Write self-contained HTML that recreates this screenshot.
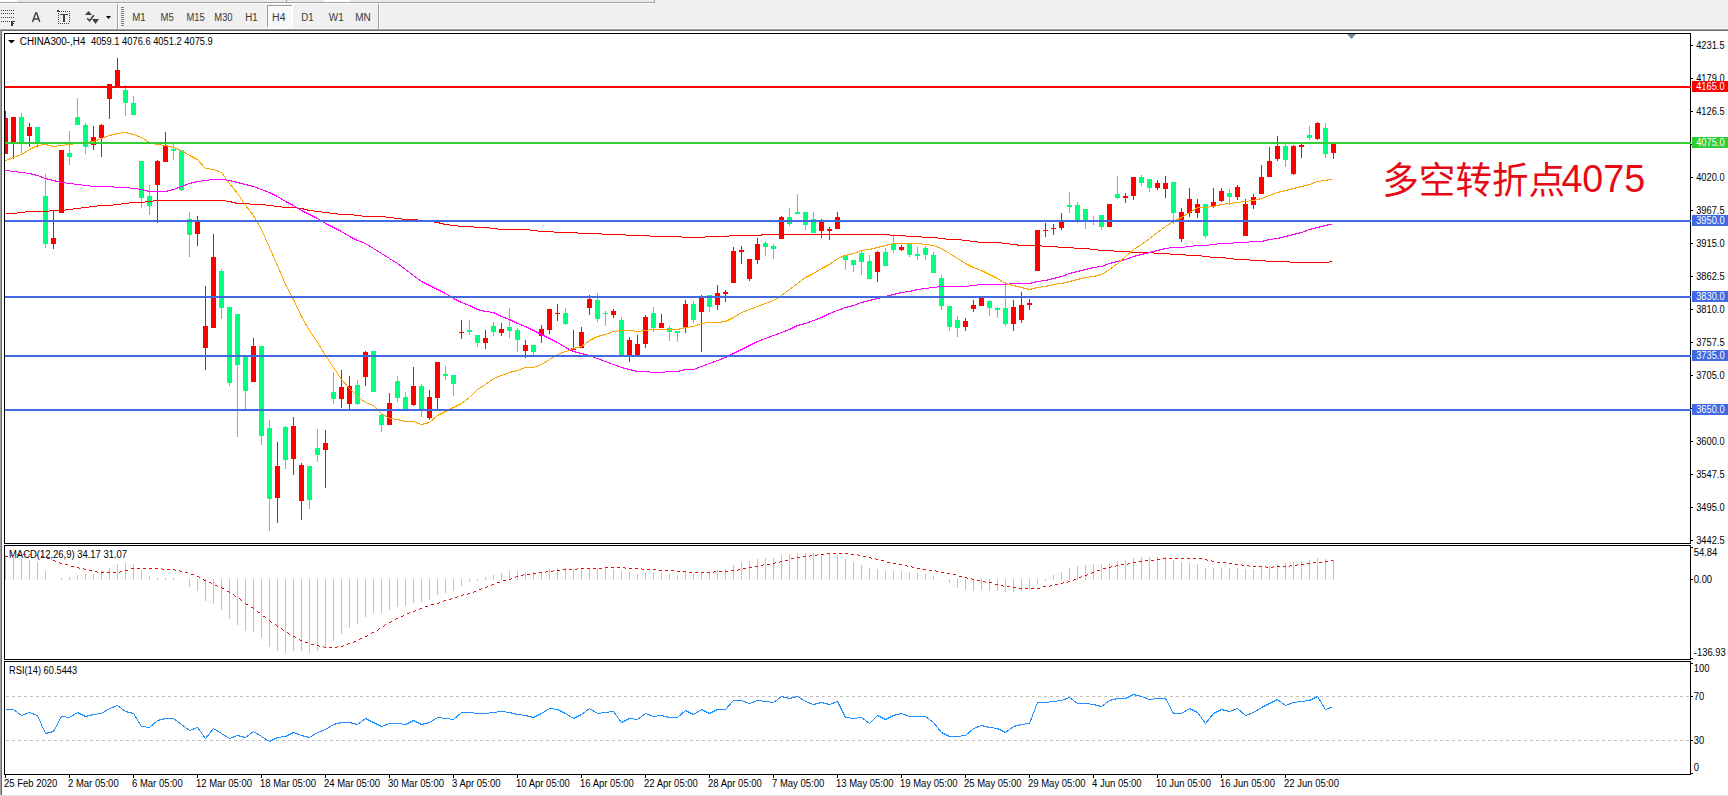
<!DOCTYPE html>
<html><head><meta charset="utf-8"><title>CHINA300 H4</title>
<style>html,body{margin:0;padding:0;background:#f0f0f0;}body{width:1728px;height:796px;overflow:hidden;}svg{display:block;}</style>
</head><body>
<svg width="1728" height="796" viewBox="0 0 1728 796"><rect x="0" y="0" width="1728" height="796" fill="#f0f0f0"/>
<rect x="0" y="0" width="655" height="2" fill="#e9e9e9"/>
<rect x="0" y="0" width="17" height="2" fill="#ffffff"/>
<rect x="324" y="0" width="26" height="2" fill="#ffffff"/>
<rect x="286" y="0" width="1" height="2" fill="#a0a0a0"/>
<rect x="0" y="2" width="655" height="1" fill="#a0a0a0"/>
<rect x="654" y="0" width="1" height="3" fill="#a0a0a0"/>
<rect x="0" y="3" width="655" height="1" fill="#ffffff"/>
<rect x="0" y="28" width="1728" height="1" fill="#f7f7f7"/>
<rect x="0" y="29" width="1728" height="1" fill="#a0a0a0"/>
<rect x="1" y="30" width="1727" height="1" fill="#696969"/>
<rect x="2" y="31" width="1726" height="764" fill="#ffffff"/>
<rect x="0" y="29" width="1" height="767" fill="#a0a0a0"/>
<rect x="1" y="30" width="1" height="766" fill="#696969"/>
<rect x="0" y="795" width="1728" height="1" fill="#e3e3e3"/>
<rect x="4" y="33" width="1687" height="1" fill="#000"/>
<rect x="4" y="543" width="1687" height="1" fill="#000"/>
<rect x="4" y="33" width="1" height="511" fill="#000"/>
<rect x="1690" y="33" width="1" height="511" fill="#000"/>
<rect x="4" y="545" width="1687" height="1" fill="#000"/>
<rect x="4" y="659" width="1687" height="1" fill="#000"/>
<rect x="4" y="545" width="1" height="115" fill="#000"/>
<rect x="1690" y="545" width="1" height="115" fill="#000"/>
<rect x="4" y="661" width="1687" height="1" fill="#000"/>
<rect x="4" y="774" width="1687" height="1" fill="#000"/>
<rect x="4" y="661" width="1" height="114" fill="#000"/>
<rect x="1690" y="661" width="1" height="114" fill="#000"/>
<rect x="1" y="10" width="1" height="1" fill="#404040"/>
<rect x="3" y="10" width="1" height="1" fill="#404040"/>
<rect x="5" y="10" width="1" height="1" fill="#404040"/>
<rect x="7" y="10" width="1" height="1" fill="#404040"/>
<rect x="9" y="10" width="1" height="1" fill="#404040"/>
<rect x="11" y="10" width="1" height="1" fill="#404040"/>
<rect x="13" y="10" width="1" height="1" fill="#404040"/>
<rect x="1" y="13" width="1" height="1" fill="#404040"/>
<rect x="3" y="13" width="1" height="1" fill="#404040"/>
<rect x="5" y="13" width="1" height="1" fill="#404040"/>
<rect x="7" y="13" width="1" height="1" fill="#404040"/>
<rect x="9" y="13" width="1" height="1" fill="#404040"/>
<rect x="11" y="13" width="1" height="1" fill="#404040"/>
<rect x="13" y="13" width="1" height="1" fill="#404040"/>
<rect x="1" y="17" width="1" height="1" fill="#404040"/>
<rect x="3" y="17" width="1" height="1" fill="#404040"/>
<rect x="5" y="17" width="1" height="1" fill="#404040"/>
<rect x="7" y="17" width="1" height="1" fill="#404040"/>
<rect x="9" y="17" width="1" height="1" fill="#404040"/>
<rect x="11" y="17" width="1" height="1" fill="#404040"/>
<rect x="13" y="17" width="1" height="1" fill="#404040"/>
<rect x="1" y="21" width="1" height="1" fill="#404040"/>
<rect x="3" y="21" width="1" height="1" fill="#404040"/>
<rect x="5" y="21" width="1" height="1" fill="#404040"/>
<rect x="7" y="21" width="1" height="1" fill="#404040"/>
<rect x="9" y="21" width="1" height="1" fill="#404040"/>
<rect x="11" y="21" width="2" height="5" fill="#404040"/>
<rect x="11" y="21" width="4" height="1" fill="#404040"/>
<rect x="11" y="23" width="3" height="1" fill="#404040"/>
<path d="M32.5 22 L35.7 13 L36.7 13 L39.8 22 M33.8 19 L38.6 19" stroke="#404040" stroke-width="1.4" fill="none"/>
<rect x="61" y="11" width="1" height="1" fill="#404040"/>
<rect x="63" y="11" width="1" height="1" fill="#404040"/>
<rect x="65" y="11" width="1" height="1" fill="#404040"/>
<rect x="67" y="11" width="1" height="1" fill="#404040"/>
<rect x="69" y="11" width="1" height="1" fill="#404040"/>
<rect x="58" y="23" width="1" height="1" fill="#404040"/>
<rect x="60" y="23" width="1" height="1" fill="#404040"/>
<rect x="62" y="23" width="1" height="1" fill="#404040"/>
<rect x="64" y="23" width="1" height="1" fill="#404040"/>
<rect x="66" y="23" width="1" height="1" fill="#404040"/>
<rect x="68" y="23" width="1" height="1" fill="#404040"/>
<rect x="58" y="13" width="1" height="1" fill="#404040"/>
<rect x="69" y="13" width="1" height="1" fill="#404040"/>
<rect x="58" y="15" width="1" height="1" fill="#404040"/>
<rect x="69" y="15" width="1" height="1" fill="#404040"/>
<rect x="58" y="17" width="1" height="1" fill="#404040"/>
<rect x="69" y="17" width="1" height="1" fill="#404040"/>
<rect x="58" y="19" width="1" height="1" fill="#404040"/>
<rect x="69" y="19" width="1" height="1" fill="#404040"/>
<rect x="58" y="21" width="1" height="1" fill="#404040"/>
<rect x="69" y="21" width="1" height="1" fill="#404040"/>
<rect x="57" y="10" width="2" height="2" fill="#404040"/>
<rect x="59" y="11" width="1" height="1" fill="#404040"/>
<rect x="60" y="14" width="8" height="1" fill="#404040"/>
<rect x="63" y="14" width="2" height="8" fill="#404040"/>
<path d="M85 15 L92 15 L88.5 11 Z" fill="#404040"/>
<path d="M92 19 L99 19 L95.5 24 Z" fill="#404040"/>
<path d="M87.2 18.2 L89.6 20.8 L93.8 15.2" stroke="#404040" stroke-width="1.6" fill="none"/>
<path d="M106 16 L111 16 L108.5 19 Z" fill="#000"/>
<rect x="117" y="4" width="1" height="25" fill="#a0a0a0"/>
<rect x="118" y="4" width="1" height="25" fill="#ffffff"/>
<rect x="121" y="7" width="3" height="1" fill="#808080"/>
<rect x="121" y="9" width="3" height="1" fill="#808080"/>
<rect x="121" y="11" width="3" height="1" fill="#808080"/>
<rect x="121" y="13" width="3" height="1" fill="#808080"/>
<rect x="121" y="15" width="3" height="1" fill="#808080"/>
<rect x="121" y="17" width="3" height="1" fill="#808080"/>
<rect x="121" y="19" width="3" height="1" fill="#808080"/>
<rect x="121" y="21" width="3" height="1" fill="#808080"/>
<rect x="121" y="23" width="3" height="1" fill="#808080"/>
<rect x="121" y="25" width="3" height="1" fill="#808080"/>
<rect x="378" y="4" width="1" height="25" fill="#a0a0a0"/>
<rect x="379" y="4" width="1" height="25" fill="#ffffff"/>
<defs><pattern id="chk" x="0" y="0" width="2" height="2" patternUnits="userSpaceOnUse"><rect width="2" height="2" fill="#f0f0f0"/><rect width="1" height="1" fill="#ffffff"/><rect x="1" y="1" width="1" height="1" fill="#ffffff"/></pattern></defs>
<rect x="268" y="6" width="24" height="21" fill="url(#chk)"/>
<rect x="267" y="5" width="25" height="1" fill="#a0a0a0"/>
<rect x="267" y="5" width="1" height="22" fill="#a0a0a0"/>
<rect x="267" y="27" width="26" height="1" fill="#ffffff"/>
<rect x="292" y="5" width="1" height="23" fill="#ffffff"/>
<g font-family="'Liberation Sans', Arial, sans-serif" font-size="9.4" fill="#383838">
<text x="132.29999999999998" y="21" font-size="10" fill="#383838" textLength="13.40" lengthAdjust="spacingAndGlyphs" >M1</text>
<text x="160.5" y="21" font-size="10" fill="#383838" textLength="13.20" lengthAdjust="spacingAndGlyphs" >M5</text>
<text x="186.5" y="21" font-size="10" fill="#383838" textLength="18.30" lengthAdjust="spacingAndGlyphs" >M15</text>
<text x="214.29999999999998" y="21" font-size="10" fill="#383838" textLength="18.30" lengthAdjust="spacingAndGlyphs" >M30</text>
<text x="245.2" y="21" font-size="10" fill="#383838" textLength="12.50" lengthAdjust="spacingAndGlyphs" >H1</text>
<text x="272.1" y="21" font-size="10" fill="#383838" textLength="13.40" lengthAdjust="spacingAndGlyphs" >H4</text>
<text x="301.3" y="21" font-size="10" fill="#383838" textLength="12.40" lengthAdjust="spacingAndGlyphs" >D1</text>
<text x="328.8" y="21" font-size="10" fill="#383838" textLength="14.90" lengthAdjust="spacingAndGlyphs" >W1</text>
<text x="355.3" y="21" font-size="10" fill="#383838" textLength="15.50" lengthAdjust="spacingAndGlyphs" >MN</text>
</g>
<g shape-rendering="crispEdges">
<rect x="5" y="111" width="1" height="43" fill="#ff0000"/>
<rect x="5" y="118" width="3" height="36" fill="#ff0000"/>
<rect x="13" y="117" width="1" height="42" fill="#ff0000"/>
<rect x="11" y="117" width="5" height="27" fill="#ff0000"/>
<rect x="21" y="113" width="1" height="40" fill="#00ff7f"/>
<rect x="19" y="117" width="5" height="26" fill="#00ff7f"/>
<rect x="29" y="123" width="1" height="24" fill="#ff0000"/>
<rect x="27" y="127" width="5" height="9" fill="#ff0000"/>
<rect x="37" y="127" width="1" height="21" fill="#00ff7f"/>
<rect x="35" y="127" width="5" height="16" fill="#00ff7f"/>
<rect x="45" y="174" width="1" height="74" fill="#00ff7f"/>
<rect x="43" y="196" width="5" height="48" fill="#00ff7f"/>
<rect x="53" y="210" width="1" height="39" fill="#ff0000"/>
<rect x="51" y="238" width="5" height="6" fill="#ff0000"/>
<rect x="61" y="150" width="1" height="63" fill="#ff0000"/>
<rect x="59" y="150" width="5" height="63" fill="#ff0000"/>
<rect x="69" y="131" width="1" height="34" fill="#00ff7f"/>
<rect x="67" y="153" width="5" height="4" fill="#00ff7f"/>
<rect x="77" y="98" width="1" height="27" fill="#00ff7f"/>
<rect x="75" y="117" width="5" height="8" fill="#00ff7f"/>
<rect x="85" y="123" width="1" height="31" fill="#00ff7f"/>
<rect x="83" y="125" width="5" height="22" fill="#00ff7f"/>
<rect x="93" y="126" width="1" height="24" fill="#ff0000"/>
<rect x="91" y="137" width="5" height="8" fill="#ff0000"/>
<rect x="101" y="124" width="1" height="33" fill="#ff0000"/>
<rect x="99" y="125" width="5" height="13" fill="#ff0000"/>
<rect x="109" y="84" width="1" height="35" fill="#ff0000"/>
<rect x="107" y="84" width="5" height="15" fill="#ff0000"/>
<rect x="117" y="58" width="1" height="29" fill="#ff0000"/>
<rect x="115" y="70" width="5" height="17" fill="#ff0000"/>
<rect x="125" y="85" width="1" height="31" fill="#00ff7f"/>
<rect x="123" y="90" width="5" height="13" fill="#00ff7f"/>
<rect x="133" y="96" width="1" height="19" fill="#00ff7f"/>
<rect x="131" y="103" width="5" height="12" fill="#00ff7f"/>
<rect x="141" y="161" width="1" height="47" fill="#00ff7f"/>
<rect x="139" y="161" width="5" height="37" fill="#00ff7f"/>
<rect x="149" y="185" width="1" height="30" fill="#00ff7f"/>
<rect x="147" y="196" width="5" height="10" fill="#00ff7f"/>
<rect x="157" y="160" width="1" height="63" fill="#ff0000"/>
<rect x="155" y="161" width="5" height="24" fill="#ff0000"/>
<rect x="165" y="132" width="1" height="30" fill="#ff0000"/>
<rect x="163" y="146" width="5" height="16" fill="#ff0000"/>
<rect x="173" y="144" width="1" height="16" fill="#00ff7f"/>
<rect x="171" y="149" width="5" height="2" fill="#00ff7f"/>
<rect x="181" y="150" width="1" height="41" fill="#00ff7f"/>
<rect x="179" y="150" width="5" height="40" fill="#00ff7f"/>
<rect x="189" y="212" width="1" height="45" fill="#00ff7f"/>
<rect x="187" y="219" width="5" height="16" fill="#00ff7f"/>
<rect x="197" y="216" width="1" height="30" fill="#ff0000"/>
<rect x="195" y="221" width="5" height="13" fill="#ff0000"/>
<rect x="205" y="286" width="1" height="84" fill="#ff0000"/>
<rect x="203" y="326" width="5" height="22" fill="#ff0000"/>
<rect x="213" y="234" width="1" height="94" fill="#ff0000"/>
<rect x="211" y="257" width="5" height="71" fill="#ff0000"/>
<rect x="221" y="269" width="1" height="50" fill="#00ff7f"/>
<rect x="219" y="271" width="5" height="37" fill="#00ff7f"/>
<rect x="229" y="307" width="1" height="79" fill="#00ff7f"/>
<rect x="227" y="307" width="5" height="76" fill="#00ff7f"/>
<rect x="237" y="314" width="1" height="123" fill="#00ff7f"/>
<rect x="235" y="314" width="5" height="51" fill="#00ff7f"/>
<rect x="245" y="357" width="1" height="52" fill="#00ff7f"/>
<rect x="243" y="357" width="5" height="34" fill="#00ff7f"/>
<rect x="253" y="338" width="1" height="44" fill="#ff0000"/>
<rect x="251" y="346" width="5" height="36" fill="#ff0000"/>
<rect x="261" y="346" width="1" height="99" fill="#00ff7f"/>
<rect x="259" y="346" width="5" height="90" fill="#00ff7f"/>
<rect x="269" y="420" width="1" height="111" fill="#00ff7f"/>
<rect x="267" y="428" width="5" height="71" fill="#00ff7f"/>
<rect x="277" y="442" width="1" height="81" fill="#ff0000"/>
<rect x="275" y="466" width="5" height="32" fill="#ff0000"/>
<rect x="285" y="426" width="1" height="43" fill="#00ff7f"/>
<rect x="283" y="427" width="5" height="33" fill="#00ff7f"/>
<rect x="293" y="417" width="1" height="58" fill="#ff0000"/>
<rect x="291" y="426" width="5" height="33" fill="#ff0000"/>
<rect x="301" y="463" width="1" height="57" fill="#ff0000"/>
<rect x="299" y="465" width="5" height="36" fill="#ff0000"/>
<rect x="309" y="466" width="1" height="43" fill="#00ff7f"/>
<rect x="307" y="466" width="5" height="34" fill="#00ff7f"/>
<rect x="317" y="429" width="1" height="33" fill="#00ff7f"/>
<rect x="315" y="448" width="5" height="7" fill="#00ff7f"/>
<rect x="325" y="430" width="1" height="58" fill="#ff0000"/>
<rect x="323" y="443" width="5" height="7" fill="#ff0000"/>
<rect x="333" y="372" width="1" height="32" fill="#00ff7f"/>
<rect x="331" y="392" width="5" height="7" fill="#00ff7f"/>
<rect x="341" y="370" width="1" height="38" fill="#ff0000"/>
<rect x="339" y="387" width="5" height="12" fill="#ff0000"/>
<rect x="349" y="376" width="1" height="33" fill="#ff0000"/>
<rect x="347" y="386" width="5" height="18" fill="#ff0000"/>
<rect x="357" y="380" width="1" height="25" fill="#00ff7f"/>
<rect x="355" y="385" width="5" height="19" fill="#00ff7f"/>
<rect x="365" y="351" width="1" height="35" fill="#ff0000"/>
<rect x="363" y="352" width="5" height="25" fill="#ff0000"/>
<rect x="373" y="351" width="1" height="41" fill="#00ff7f"/>
<rect x="371" y="351" width="5" height="41" fill="#00ff7f"/>
<rect x="381" y="414" width="1" height="18" fill="#00ff7f"/>
<rect x="379" y="415" width="5" height="10" fill="#00ff7f"/>
<rect x="389" y="393" width="1" height="32" fill="#ff0000"/>
<rect x="387" y="403" width="5" height="22" fill="#ff0000"/>
<rect x="397" y="376" width="1" height="26" fill="#00ff7f"/>
<rect x="395" y="381" width="5" height="17" fill="#00ff7f"/>
<rect x="405" y="392" width="1" height="18" fill="#00ff7f"/>
<rect x="403" y="397" width="5" height="12" fill="#00ff7f"/>
<rect x="413" y="367" width="1" height="39" fill="#ff0000"/>
<rect x="411" y="386" width="5" height="19" fill="#ff0000"/>
<rect x="421" y="384" width="1" height="33" fill="#00ff7f"/>
<rect x="419" y="386" width="5" height="25" fill="#00ff7f"/>
<rect x="429" y="390" width="1" height="30" fill="#ff0000"/>
<rect x="427" y="397" width="5" height="21" fill="#ff0000"/>
<rect x="437" y="362" width="1" height="47" fill="#ff0000"/>
<rect x="435" y="362" width="5" height="36" fill="#ff0000"/>
<rect x="445" y="366" width="1" height="14" fill="#00ff7f"/>
<rect x="443" y="374" width="5" height="2" fill="#00ff7f"/>
<rect x="453" y="375" width="1" height="21" fill="#00ff7f"/>
<rect x="451" y="375" width="5" height="9" fill="#00ff7f"/>
<rect x="461" y="320" width="1" height="19" fill="#ff0000"/>
<rect x="459" y="332" width="5" height="1" fill="#ff0000"/>
<rect x="469" y="320" width="1" height="15" fill="#00ff7f"/>
<rect x="467" y="330" width="5" height="2" fill="#00ff7f"/>
<rect x="477" y="335" width="1" height="12" fill="#00ff7f"/>
<rect x="475" y="335" width="5" height="8" fill="#00ff7f"/>
<rect x="485" y="330" width="1" height="19" fill="#ff0000"/>
<rect x="483" y="338" width="5" height="5" fill="#ff0000"/>
<rect x="493" y="322" width="1" height="14" fill="#00ff7f"/>
<rect x="491" y="326" width="5" height="6" fill="#00ff7f"/>
<rect x="501" y="323" width="1" height="13" fill="#ff0000"/>
<rect x="499" y="329" width="5" height="4" fill="#ff0000"/>
<rect x="509" y="308" width="1" height="30" fill="#00ff7f"/>
<rect x="507" y="327" width="5" height="4" fill="#00ff7f"/>
<rect x="517" y="328" width="1" height="24" fill="#00ff7f"/>
<rect x="515" y="330" width="5" height="10" fill="#00ff7f"/>
<rect x="525" y="340" width="1" height="18" fill="#ff0000"/>
<rect x="523" y="345" width="5" height="6" fill="#ff0000"/>
<rect x="533" y="345" width="1" height="10" fill="#00ff7f"/>
<rect x="531" y="345" width="5" height="7" fill="#00ff7f"/>
<rect x="541" y="325" width="1" height="18" fill="#ff0000"/>
<rect x="539" y="329" width="5" height="7" fill="#ff0000"/>
<rect x="549" y="309" width="1" height="25" fill="#ff0000"/>
<rect x="547" y="309" width="5" height="21" fill="#ff0000"/>
<rect x="557" y="304" width="1" height="17" fill="#ff0000"/>
<rect x="555" y="313" width="5" height="1" fill="#ff0000"/>
<rect x="565" y="308" width="1" height="17" fill="#00ff7f"/>
<rect x="563" y="313" width="5" height="11" fill="#00ff7f"/>
<rect x="573" y="330" width="1" height="20" fill="#ff0000"/>
<rect x="571" y="348" width="5" height="2" fill="#ff0000"/>
<rect x="581" y="327" width="1" height="21" fill="#ff0000"/>
<rect x="579" y="332" width="5" height="16" fill="#ff0000"/>
<rect x="589" y="295" width="1" height="20" fill="#ff0000"/>
<rect x="587" y="299" width="5" height="9" fill="#ff0000"/>
<rect x="597" y="293" width="1" height="29" fill="#00ff7f"/>
<rect x="595" y="300" width="5" height="19" fill="#00ff7f"/>
<rect x="605" y="311" width="1" height="15" fill="#00ff7f"/>
<rect x="603" y="313" width="5" height="1" fill="#00ff7f"/>
<rect x="613" y="309" width="1" height="9" fill="#ff0000"/>
<rect x="611" y="311" width="5" height="4" fill="#ff0000"/>
<rect x="621" y="317" width="1" height="38" fill="#00ff7f"/>
<rect x="619" y="320" width="5" height="35" fill="#00ff7f"/>
<rect x="629" y="337" width="1" height="25" fill="#ff0000"/>
<rect x="627" y="340" width="5" height="15" fill="#ff0000"/>
<rect x="637" y="335" width="1" height="20" fill="#ff0000"/>
<rect x="635" y="344" width="5" height="11" fill="#ff0000"/>
<rect x="645" y="315" width="1" height="33" fill="#ff0000"/>
<rect x="643" y="317" width="5" height="27" fill="#ff0000"/>
<rect x="653" y="307" width="1" height="25" fill="#00ff7f"/>
<rect x="651" y="313" width="5" height="15" fill="#00ff7f"/>
<rect x="661" y="314" width="1" height="14" fill="#ff0000"/>
<rect x="659" y="323" width="5" height="5" fill="#ff0000"/>
<rect x="669" y="326" width="1" height="15" fill="#00ff7f"/>
<rect x="667" y="328" width="5" height="4" fill="#00ff7f"/>
<rect x="677" y="331" width="1" height="11" fill="#00ff7f"/>
<rect x="675" y="331" width="5" height="2" fill="#00ff7f"/>
<rect x="685" y="300" width="1" height="33" fill="#ff0000"/>
<rect x="683" y="304" width="5" height="24" fill="#ff0000"/>
<rect x="693" y="301" width="1" height="22" fill="#00ff7f"/>
<rect x="691" y="304" width="5" height="16" fill="#00ff7f"/>
<rect x="701" y="295" width="1" height="57" fill="#ff0000"/>
<rect x="699" y="298" width="5" height="14" fill="#ff0000"/>
<rect x="709" y="295" width="1" height="17" fill="#00ff7f"/>
<rect x="707" y="295" width="5" height="12" fill="#00ff7f"/>
<rect x="717" y="285" width="1" height="25" fill="#ff0000"/>
<rect x="715" y="293" width="5" height="12" fill="#ff0000"/>
<rect x="725" y="290" width="1" height="12" fill="#ff0000"/>
<rect x="723" y="292" width="5" height="2" fill="#ff0000"/>
<rect x="733" y="247" width="1" height="36" fill="#ff0000"/>
<rect x="731" y="251" width="5" height="32" fill="#ff0000"/>
<rect x="741" y="246" width="1" height="18" fill="#ff0000"/>
<rect x="739" y="250" width="5" height="2" fill="#ff0000"/>
<rect x="749" y="259" width="1" height="22" fill="#ff0000"/>
<rect x="747" y="259" width="5" height="20" fill="#ff0000"/>
<rect x="757" y="238" width="1" height="26" fill="#ff0000"/>
<rect x="755" y="244" width="5" height="16" fill="#ff0000"/>
<rect x="765" y="241" width="1" height="15" fill="#00ff7f"/>
<rect x="763" y="243" width="5" height="4" fill="#00ff7f"/>
<rect x="773" y="244" width="1" height="15" fill="#00ff7f"/>
<rect x="771" y="246" width="5" height="3" fill="#00ff7f"/>
<rect x="781" y="216" width="1" height="23" fill="#ff0000"/>
<rect x="779" y="217" width="5" height="22" fill="#ff0000"/>
<rect x="789" y="208" width="1" height="18" fill="#00ff7f"/>
<rect x="787" y="217" width="5" height="7" fill="#00ff7f"/>
<rect x="797" y="194" width="1" height="20" fill="#00ff7f"/>
<rect x="795" y="212" width="5" height="2" fill="#00ff7f"/>
<rect x="805" y="212" width="1" height="18" fill="#00ff7f"/>
<rect x="803" y="212" width="5" height="13" fill="#00ff7f"/>
<rect x="813" y="212" width="1" height="21" fill="#00ff7f"/>
<rect x="811" y="219" width="5" height="14" fill="#00ff7f"/>
<rect x="821" y="219" width="1" height="19" fill="#ff0000"/>
<rect x="819" y="222" width="5" height="9" fill="#ff0000"/>
<rect x="829" y="227" width="1" height="13" fill="#ff0000"/>
<rect x="827" y="229" width="5" height="2" fill="#ff0000"/>
<rect x="837" y="212" width="1" height="17" fill="#ff0000"/>
<rect x="835" y="217" width="5" height="12" fill="#ff0000"/>
<rect x="845" y="255" width="1" height="15" fill="#00ff7f"/>
<rect x="843" y="255" width="5" height="5" fill="#00ff7f"/>
<rect x="853" y="260" width="1" height="12" fill="#00ff7f"/>
<rect x="851" y="260" width="5" height="5" fill="#00ff7f"/>
<rect x="861" y="251" width="1" height="24" fill="#00ff7f"/>
<rect x="859" y="253" width="5" height="9" fill="#00ff7f"/>
<rect x="869" y="255" width="1" height="24" fill="#00ff7f"/>
<rect x="867" y="261" width="5" height="18" fill="#00ff7f"/>
<rect x="877" y="251" width="1" height="31" fill="#ff0000"/>
<rect x="875" y="252" width="5" height="20" fill="#ff0000"/>
<rect x="885" y="248" width="1" height="18" fill="#00ff7f"/>
<rect x="883" y="252" width="5" height="14" fill="#00ff7f"/>
<rect x="893" y="236" width="1" height="17" fill="#00ff7f"/>
<rect x="891" y="244" width="5" height="6" fill="#00ff7f"/>
<rect x="901" y="245" width="1" height="6" fill="#ff0000"/>
<rect x="899" y="247" width="5" height="3" fill="#ff0000"/>
<rect x="909" y="244" width="1" height="13" fill="#00ff7f"/>
<rect x="907" y="244" width="5" height="11" fill="#00ff7f"/>
<rect x="917" y="247" width="1" height="13" fill="#00ff7f"/>
<rect x="915" y="254" width="5" height="2" fill="#00ff7f"/>
<rect x="925" y="246" width="1" height="14" fill="#00ff7f"/>
<rect x="923" y="248" width="5" height="7" fill="#00ff7f"/>
<rect x="933" y="252" width="1" height="21" fill="#00ff7f"/>
<rect x="931" y="255" width="5" height="18" fill="#00ff7f"/>
<rect x="941" y="275" width="1" height="35" fill="#00ff7f"/>
<rect x="939" y="278" width="5" height="28" fill="#00ff7f"/>
<rect x="949" y="306" width="1" height="25" fill="#00ff7f"/>
<rect x="947" y="306" width="5" height="21" fill="#00ff7f"/>
<rect x="957" y="316" width="1" height="21" fill="#00ff7f"/>
<rect x="955" y="320" width="5" height="8" fill="#00ff7f"/>
<rect x="965" y="318" width="1" height="13" fill="#ff0000"/>
<rect x="963" y="321" width="5" height="6" fill="#ff0000"/>
<rect x="973" y="300" width="1" height="12" fill="#ff0000"/>
<rect x="971" y="305" width="5" height="4" fill="#ff0000"/>
<rect x="981" y="298" width="1" height="8" fill="#ff0000"/>
<rect x="979" y="298" width="5" height="8" fill="#ff0000"/>
<rect x="989" y="300" width="1" height="16" fill="#00ff7f"/>
<rect x="987" y="301" width="5" height="7" fill="#00ff7f"/>
<rect x="997" y="307" width="1" height="11" fill="#00ff7f"/>
<rect x="995" y="308" width="5" height="2" fill="#00ff7f"/>
<rect x="1005" y="282" width="1" height="44" fill="#00ff7f"/>
<rect x="1003" y="308" width="5" height="16" fill="#00ff7f"/>
<rect x="1013" y="300" width="1" height="31" fill="#ff0000"/>
<rect x="1011" y="307" width="5" height="17" fill="#ff0000"/>
<rect x="1021" y="292" width="1" height="31" fill="#ff0000"/>
<rect x="1019" y="305" width="5" height="15" fill="#ff0000"/>
<rect x="1029" y="299" width="1" height="11" fill="#ff0000"/>
<rect x="1027" y="303" width="5" height="2" fill="#ff0000"/>
<rect x="1037" y="230" width="1" height="41" fill="#ff0000"/>
<rect x="1035" y="230" width="5" height="41" fill="#ff0000"/>
<rect x="1045" y="223" width="1" height="14" fill="#ff0000"/>
<rect x="1043" y="230" width="5" height="1" fill="#ff0000"/>
<rect x="1053" y="224" width="1" height="11" fill="#ff0000"/>
<rect x="1051" y="228" width="5" height="1" fill="#ff0000"/>
<rect x="1061" y="213" width="1" height="17" fill="#ff0000"/>
<rect x="1059" y="222" width="5" height="6" fill="#ff0000"/>
<rect x="1069" y="192" width="1" height="21" fill="#00ff7f"/>
<rect x="1067" y="205" width="5" height="2" fill="#00ff7f"/>
<rect x="1077" y="202" width="1" height="21" fill="#00ff7f"/>
<rect x="1075" y="205" width="5" height="16" fill="#00ff7f"/>
<rect x="1085" y="209" width="1" height="20" fill="#00ff7f"/>
<rect x="1083" y="209" width="5" height="12" fill="#00ff7f"/>
<rect x="1093" y="216" width="1" height="9" fill="#00ff7f"/>
<rect x="1091" y="220" width="5" height="1" fill="#00ff7f"/>
<rect x="1101" y="215" width="1" height="15" fill="#00ff7f"/>
<rect x="1099" y="215" width="5" height="12" fill="#00ff7f"/>
<rect x="1109" y="204" width="1" height="23" fill="#ff0000"/>
<rect x="1107" y="204" width="5" height="23" fill="#ff0000"/>
<rect x="1117" y="176" width="1" height="23" fill="#00ff7f"/>
<rect x="1115" y="194" width="5" height="4" fill="#00ff7f"/>
<rect x="1125" y="193" width="1" height="10" fill="#ff0000"/>
<rect x="1123" y="196" width="5" height="2" fill="#ff0000"/>
<rect x="1133" y="177" width="1" height="23" fill="#ff0000"/>
<rect x="1131" y="177" width="5" height="19" fill="#ff0000"/>
<rect x="1141" y="175" width="1" height="11" fill="#00ff7f"/>
<rect x="1139" y="177" width="5" height="6" fill="#00ff7f"/>
<rect x="1149" y="179" width="1" height="13" fill="#00ff7f"/>
<rect x="1147" y="179" width="5" height="9" fill="#00ff7f"/>
<rect x="1157" y="180" width="1" height="10" fill="#ff0000"/>
<rect x="1155" y="183" width="5" height="5" fill="#ff0000"/>
<rect x="1165" y="176" width="1" height="22" fill="#ff0000"/>
<rect x="1163" y="183" width="5" height="6" fill="#ff0000"/>
<rect x="1173" y="182" width="1" height="42" fill="#00ff7f"/>
<rect x="1171" y="182" width="5" height="31" fill="#00ff7f"/>
<rect x="1181" y="208" width="1" height="34" fill="#ff0000"/>
<rect x="1179" y="212" width="5" height="27" fill="#ff0000"/>
<rect x="1189" y="188" width="1" height="29" fill="#ff0000"/>
<rect x="1187" y="199" width="5" height="14" fill="#ff0000"/>
<rect x="1197" y="199" width="1" height="19" fill="#ff0000"/>
<rect x="1195" y="204" width="5" height="9" fill="#ff0000"/>
<rect x="1205" y="204" width="1" height="34" fill="#00ff7f"/>
<rect x="1203" y="204" width="5" height="32" fill="#00ff7f"/>
<rect x="1213" y="188" width="1" height="20" fill="#ff0000"/>
<rect x="1211" y="202" width="5" height="4" fill="#ff0000"/>
<rect x="1221" y="188" width="1" height="14" fill="#ff0000"/>
<rect x="1219" y="191" width="5" height="10" fill="#ff0000"/>
<rect x="1229" y="189" width="1" height="16" fill="#00ff7f"/>
<rect x="1227" y="193" width="5" height="4" fill="#00ff7f"/>
<rect x="1237" y="185" width="1" height="15" fill="#ff0000"/>
<rect x="1235" y="187" width="5" height="10" fill="#ff0000"/>
<rect x="1245" y="199" width="1" height="37" fill="#ff0000"/>
<rect x="1243" y="204" width="5" height="32" fill="#ff0000"/>
<rect x="1253" y="194" width="1" height="15" fill="#ff0000"/>
<rect x="1251" y="197" width="5" height="8" fill="#ff0000"/>
<rect x="1261" y="165" width="1" height="29" fill="#ff0000"/>
<rect x="1259" y="177" width="5" height="17" fill="#ff0000"/>
<rect x="1269" y="147" width="1" height="30" fill="#ff0000"/>
<rect x="1267" y="161" width="5" height="16" fill="#ff0000"/>
<rect x="1277" y="136" width="1" height="25" fill="#ff0000"/>
<rect x="1275" y="146" width="5" height="13" fill="#ff0000"/>
<rect x="1285" y="144" width="1" height="23" fill="#00ff7f"/>
<rect x="1283" y="146" width="5" height="14" fill="#00ff7f"/>
<rect x="1293" y="145" width="1" height="30" fill="#ff0000"/>
<rect x="1291" y="146" width="5" height="28" fill="#ff0000"/>
<rect x="1301" y="143" width="1" height="15" fill="#ff0000"/>
<rect x="1299" y="145" width="5" height="2" fill="#ff0000"/>
<rect x="1309" y="126" width="1" height="14" fill="#00ff7f"/>
<rect x="1307" y="135" width="5" height="3" fill="#00ff7f"/>
<rect x="1317" y="122" width="1" height="18" fill="#ff0000"/>
<rect x="1315" y="123" width="5" height="16" fill="#ff0000"/>
<rect x="1325" y="123" width="1" height="35" fill="#00ff7f"/>
<rect x="1323" y="128" width="5" height="26" fill="#00ff7f"/>
<rect x="1333" y="142" width="1" height="17" fill="#ff0000"/>
<rect x="1331" y="142" width="5" height="11" fill="#ff0000"/>
</g>
<path d="M5.5 213.5 L13.5 213.5 L21.5 212.5 L29.5 211.5 L37.5 211.5 L45.5 211.5 L53.5 210.5 L61.5 210.5 L69.5 209.5 L77.5 208.5 L85.5 207.5 L93.5 206.5 L101.5 205.5 L109.5 205.5 L117.5 204.5 L125.5 203.5 L133.5 202.5 L141.5 202.5 L149.5 201.5 L157.5 200.5 L165.5 200.5 L173.5 200.5 L181.5 200.5 L189.5 200.5 L197.5 200.5 L205.5 200.5 L213.5 200.5 L221.5 200.5 L229.5 201.5 L237.5 203.5 L245.5 203.5 L253.5 204.5 L261.5 204.5 L269.5 205.5 L277.5 206.5 L285.5 207.5 L293.5 207.5 L301.5 208.5 L309.5 210.5 L317.5 211.5 L325.5 212.5 L333.5 213.5 L341.5 214.5 L349.5 214.5 L357.5 215.5 L365.5 216.5 L373.5 216.5 L381.5 216.5 L389.5 217.5 L397.5 218.5 L405.5 219.5 L413.5 219.5 L421.5 220.5 L429.5 221.5 L437.5 222.5 L445.5 224.5 L453.5 225.5 L461.5 226.5 L469.5 226.5 L477.5 227.5 L485.5 227.5 L493.5 228.5 L501.5 229.5 L509.5 229.5 L517.5 229.5 L525.5 229.5 L533.5 230.5 L541.5 231.5 L549.5 231.5 L557.5 232.5 L565.5 232.5 L573.5 232.5 L581.5 233.5 L589.5 233.5 L597.5 233.5 L605.5 234.5 L613.5 234.5 L621.5 234.5 L629.5 235.5 L637.5 235.5 L645.5 235.5 L653.5 236.5 L661.5 236.5 L669.5 236.5 L677.5 236.5 L685.5 237.5 L693.5 237.5 L701.5 237.5 L709.5 236.5 L717.5 236.5 L725.5 236.5 L733.5 235.5 L741.5 235.5 L749.5 235.5 L757.5 235.5 L765.5 234.5 L773.5 234.5 L781.5 234.5 L789.5 234.5 L797.5 234.5 L805.5 234.5 L813.5 234.5 L821.5 234.5 L829.5 234.5 L837.5 234.5 L845.5 234.5 L853.5 234.5 L861.5 234.5 L869.5 234.5 L877.5 234.5 L885.5 234.5 L893.5 235.5 L901.5 235.5 L909.5 236.5 L917.5 236.5 L925.5 237.5 L933.5 237.5 L941.5 238.5 L949.5 239.5 L957.5 239.5 L965.5 240.5 L973.5 241.5 L981.5 242.5 L989.5 242.5 L997.5 242.5 L1005.5 243.5 L1013.5 244.5 L1021.5 245.5 L1029.5 245.5 L1037.5 245.5 L1045.5 246.5 L1053.5 246.5 L1061.5 247.5 L1069.5 247.5 L1077.5 248.5 L1085.5 248.5 L1093.5 249.5 L1101.5 250.5 L1109.5 250.5 L1117.5 251.5 L1125.5 251.5 L1133.5 252.5 L1141.5 252.5 L1149.5 252.5 L1157.5 253.5 L1165.5 253.5 L1173.5 254.5 L1181.5 254.5 L1189.5 255.5 L1197.5 255.5 L1205.5 256.5 L1213.5 257.5 L1221.5 257.5 L1229.5 258.5 L1237.5 259.5 L1245.5 259.5 L1253.5 260.5 L1261.5 260.5 L1269.5 261.5 L1277.5 261.5 L1285.5 261.5 L1293.5 262.5 L1301.5 262.5 L1309.5 262.5 L1317.5 262.5 L1325.5 262.5 L1332.5 261.6" stroke="#ff0000" stroke-width="1" fill="none" shape-rendering="crispEdges" />
<path d="M5.5 170.5 L13.5 171.5 L21.5 172.5 L29.5 173.5 L37.5 175.5 L45.5 178.5 L53.5 180.5 L61.5 182.5 L69.5 183.5 L77.5 184.5 L85.5 185.5 L93.5 186.5 L101.5 186.5 L109.5 186.5 L117.5 187.5 L125.5 187.5 L133.5 188.5 L141.5 189.5 L149.5 191.5 L157.5 191.5 L165.5 191.5 L173.5 189.5 L181.5 186.5 L189.5 183.5 L197.5 181.5 L205.5 180.5 L213.5 179.5 L221.5 179.5 L229.5 180.5 L237.5 182.5 L245.5 184.5 L253.5 186.5 L261.5 189.5 L269.5 192.5 L277.5 196.5 L285.5 201.5 L293.5 205.5 L301.5 210.5 L309.5 214.5 L317.5 218.5 L325.5 223.5 L333.5 227.5 L341.5 231.5 L349.5 236.5 L357.5 240.5 L365.5 243.5 L373.5 248.5 L381.5 253.5 L389.5 258.5 L397.5 263.5 L405.5 269.5 L413.5 275.5 L421.5 281.5 L429.5 285.5 L437.5 289.5 L445.5 293.5 L453.5 298.5 L461.5 302.5 L469.5 305.5 L477.5 309.5 L485.5 311.5 L493.5 312.5 L501.5 316.5 L509.5 319.5 L517.5 323.5 L525.5 326.5 L533.5 330.5 L541.5 334.5 L549.5 338.5 L557.5 342.5 L565.5 347.5 L573.5 351.5 L581.5 353.5 L589.5 355.5 L597.5 358.5 L605.5 361.5 L613.5 364.5 L621.5 367.5 L629.5 369.5 L637.5 371.5 L645.5 371.5 L653.5 372.5 L661.5 372.5 L669.5 371.5 L677.5 371.5 L685.5 369.5 L693.5 369.5 L701.5 366.5 L709.5 363.5 L717.5 360.5 L725.5 357.5 L733.5 353.5 L741.5 349.5 L749.5 345.5 L757.5 341.5 L765.5 338.5 L773.5 335.5 L781.5 332.5 L789.5 329.5 L797.5 325.5 L805.5 323.5 L813.5 320.5 L821.5 317.5 L829.5 313.5 L837.5 310.5 L845.5 307.5 L853.5 305.5 L861.5 302.5 L869.5 300.5 L877.5 298.5 L885.5 296.5 L893.5 294.5 L901.5 292.5 L909.5 291.5 L917.5 289.5 L925.5 288.5 L933.5 287.5 L941.5 286.5 L949.5 286.5 L957.5 286.5 L965.5 286.5 L973.5 285.5 L981.5 284.5 L989.5 284.5 L997.5 284.5 L1005.5 284.5 L1013.5 283.5 L1021.5 283.5 L1029.5 283.5 L1037.5 281.5 L1045.5 280.5 L1053.5 278.5 L1061.5 276.5 L1069.5 273.5 L1077.5 271.5 L1085.5 269.5 L1093.5 267.5 L1101.5 266.5 L1109.5 263.5 L1117.5 261.5 L1125.5 259.5 L1133.5 256.5 L1141.5 254.5 L1149.5 252.5 L1157.5 250.5 L1165.5 248.5 L1173.5 247.5 L1181.5 247.5 L1189.5 246.5 L1197.5 245.5 L1205.5 245.5 L1213.5 244.5 L1221.5 243.5 L1229.5 243.5 L1237.5 242.5 L1245.5 242.5 L1253.5 241.5 L1261.5 241.5 L1269.5 239.5 L1277.5 238.5 L1285.5 236.5 L1293.5 234.5 L1301.5 232.5 L1309.5 229.5 L1317.5 227.5 L1325.5 225.5 L1332.5 223.8" stroke="#ff00ff" stroke-width="1" fill="none" shape-rendering="crispEdges" />
<path d="M5.5 160.5 L13.5 157.5 L21.5 154.5 L29.5 149.5 L37.5 145.5 L45.5 144.5 L53.5 146.5 L61.5 145.5 L69.5 144.5 L77.5 143.5 L85.5 142.5 L93.5 141.5 L101.5 138.5 L109.5 135.5 L117.5 133.5 L125.5 132.5 L133.5 134.5 L141.5 137.5 L149.5 142.5 L157.5 144.5 L165.5 145.5 L173.5 147.5 L181.5 150.5 L189.5 155.5 L197.5 159.5 L205.5 168.5 L213.5 169.5 L221.5 172.5 L229.5 183.5 L237.5 193.5 L245.5 205.5 L253.5 215.5 L261.5 229.5 L269.5 247.5 L277.5 265.5 L285.5 284.5 L293.5 299.5 L301.5 316.5 L309.5 330.5 L317.5 342.5 L325.5 355.5 L333.5 367.5 L341.5 379.5 L349.5 388.5 L357.5 396.5 L365.5 402.5 L373.5 405.5 L381.5 413.5 L389.5 418.5 L397.5 419.5 L405.5 421.5 L413.5 421.5 L421.5 424.5 L429.5 422.5 L437.5 415.5 L445.5 411.5 L453.5 407.5 L461.5 403.5 L469.5 397.5 L477.5 389.5 L485.5 384.5 L493.5 378.5 L501.5 375.5 L509.5 372.5 L517.5 370.5 L525.5 367.5 L533.5 367.5 L541.5 364.5 L549.5 359.5 L557.5 354.5 L565.5 351.5 L573.5 348.5 L581.5 346.5 L589.5 340.5 L597.5 336.5 L605.5 334.5 L613.5 331.5 L621.5 330.5 L629.5 330.5 L637.5 331.5 L645.5 330.5 L653.5 329.5 L661.5 329.5 L669.5 329.5 L677.5 329.5 L685.5 327.5 L693.5 326.5 L701.5 323.5 L709.5 322.5 L717.5 322.5 L725.5 321.5 L733.5 317.5 L741.5 312.5 L749.5 309.5 L757.5 306.5 L765.5 303.5 L773.5 300.5 L781.5 295.5 L789.5 289.5 L797.5 283.5 L805.5 277.5 L813.5 273.5 L821.5 268.5 L829.5 264.5 L837.5 258.5 L845.5 255.5 L853.5 253.5 L861.5 250.5 L869.5 249.5 L877.5 247.5 L885.5 245.5 L893.5 243.5 L901.5 243.5 L909.5 243.5 L917.5 243.5 L925.5 244.5 L933.5 245.5 L941.5 248.5 L949.5 253.5 L957.5 258.5 L965.5 263.5 L973.5 267.5 L981.5 270.5 L989.5 274.5 L997.5 278.5 L1005.5 283.5 L1013.5 285.5 L1021.5 287.5 L1029.5 289.5 L1037.5 287.5 L1045.5 286.5 L1053.5 284.5 L1061.5 283.5 L1069.5 281.5 L1077.5 279.5 L1085.5 277.5 L1093.5 276.5 L1101.5 274.5 L1109.5 269.5 L1117.5 263.5 L1125.5 256.5 L1133.5 249.5 L1141.5 244.5 L1149.5 238.5 L1157.5 232.5 L1165.5 226.5 L1173.5 221.5 L1181.5 217.5 L1189.5 212.5 L1197.5 207.5 L1205.5 207.5 L1213.5 206.5 L1221.5 204.5 L1229.5 203.5 L1237.5 202.5 L1245.5 201.5 L1253.5 200.5 L1261.5 198.5 L1269.5 195.5 L1277.5 192.5 L1285.5 190.5 L1293.5 188.5 L1301.5 186.5 L1309.5 184.5 L1317.5 181.5 L1325.5 180.5 L1332.5 178.8" stroke="#ffa500" stroke-width="1" fill="none" shape-rendering="crispEdges" />
<rect x="5" y="86" width="1686" height="2" fill="#ff0000"/>
<rect x="5" y="142" width="1686" height="2" fill="#32cd32"/>
<rect x="5" y="220" width="1686" height="2" fill="#4169e1"/>
<rect x="5" y="296" width="1686" height="2" fill="#4169e1"/>
<rect x="5" y="355" width="1686" height="2" fill="#4169e1"/>
<rect x="5" y="409" width="1686" height="2" fill="#4169e1"/>
<path d="M8 40 L15 40 L11.5 43.5 Z" fill="#000"/>
<g font-family="'Liberation Sans', Arial, sans-serif" fill="#000">
<text x="19.8" y="45" font-size="10" fill="#000" textLength="65.60" lengthAdjust="spacingAndGlyphs" >CHINA300-,H4</text>
<text x="91.0" y="45" font-size="10" fill="#000" textLength="121.80" lengthAdjust="spacingAndGlyphs" >4059.1 4076.6 4051.2 4075.9</text>
</g>
<path d="M1347 34 L1356 34 L1351.5 39 Z" fill="#778899"/>
<g font-family="'Liberation Sans', Arial, sans-serif" fill="#000">
<text x="9.0" y="558" font-size="10" fill="#000" textLength="118.00" lengthAdjust="spacingAndGlyphs" >MACD(12,26,9) 34.17 31.07</text>
<text x="9.0" y="674" font-size="10" fill="#000" textLength="68.20" lengthAdjust="spacingAndGlyphs" >RSI(14) 60.5443</text>
</g>
<g shape-rendering="crispEdges">
<rect x="5" y="555" width="1" height="25" fill="#c0c0c0"/>
<rect x="13" y="556" width="1" height="24" fill="#c0c0c0"/>
<rect x="21" y="559" width="1" height="21" fill="#c0c0c0"/>
<rect x="29" y="560" width="1" height="20" fill="#c0c0c0"/>
<rect x="37" y="562" width="1" height="18" fill="#c0c0c0"/>
<rect x="45" y="571" width="1" height="9" fill="#c0c0c0"/>
<rect x="61" y="578" width="1" height="2" fill="#c0c0c0"/>
<rect x="69" y="577" width="1" height="3" fill="#c0c0c0"/>
<rect x="77" y="575" width="1" height="5" fill="#c0c0c0"/>
<rect x="85" y="574" width="1" height="6" fill="#c0c0c0"/>
<rect x="93" y="574" width="1" height="6" fill="#c0c0c0"/>
<rect x="101" y="571" width="1" height="9" fill="#c0c0c0"/>
<rect x="109" y="568" width="1" height="12" fill="#c0c0c0"/>
<rect x="117" y="564" width="1" height="16" fill="#c0c0c0"/>
<rect x="125" y="563" width="1" height="17" fill="#c0c0c0"/>
<rect x="133" y="564" width="1" height="16" fill="#c0c0c0"/>
<rect x="141" y="570" width="1" height="10" fill="#c0c0c0"/>
<rect x="149" y="576" width="1" height="4" fill="#c0c0c0"/>
<rect x="157" y="578" width="1" height="2" fill="#c0c0c0"/>
<rect x="165" y="578" width="1" height="2" fill="#c0c0c0"/>
<rect x="173" y="578" width="1" height="2" fill="#c0c0c0"/>
<rect x="189" y="579" width="1" height="8" fill="#c0c0c0"/>
<rect x="197" y="579" width="1" height="12" fill="#c0c0c0"/>
<rect x="205" y="579" width="1" height="22" fill="#c0c0c0"/>
<rect x="213" y="579" width="1" height="25" fill="#c0c0c0"/>
<rect x="221" y="579" width="1" height="31" fill="#c0c0c0"/>
<rect x="229" y="579" width="1" height="40" fill="#c0c0c0"/>
<rect x="237" y="579" width="1" height="46" fill="#c0c0c0"/>
<rect x="245" y="579" width="1" height="52" fill="#c0c0c0"/>
<rect x="253" y="579" width="1" height="53" fill="#c0c0c0"/>
<rect x="261" y="579" width="1" height="59" fill="#c0c0c0"/>
<rect x="269" y="579" width="1" height="68" fill="#c0c0c0"/>
<rect x="277" y="579" width="1" height="72" fill="#c0c0c0"/>
<rect x="285" y="579" width="1" height="74" fill="#c0c0c0"/>
<rect x="293" y="579" width="1" height="72" fill="#c0c0c0"/>
<rect x="301" y="579" width="1" height="72" fill="#c0c0c0"/>
<rect x="309" y="579" width="1" height="74" fill="#c0c0c0"/>
<rect x="317" y="579" width="1" height="72" fill="#c0c0c0"/>
<rect x="325" y="579" width="1" height="68" fill="#c0c0c0"/>
<rect x="333" y="579" width="1" height="62" fill="#c0c0c0"/>
<rect x="341" y="579" width="1" height="55" fill="#c0c0c0"/>
<rect x="349" y="579" width="1" height="49" fill="#c0c0c0"/>
<rect x="357" y="579" width="1" height="45" fill="#c0c0c0"/>
<rect x="365" y="579" width="1" height="38" fill="#c0c0c0"/>
<rect x="373" y="579" width="1" height="34" fill="#c0c0c0"/>
<rect x="381" y="579" width="1" height="34" fill="#c0c0c0"/>
<rect x="389" y="579" width="1" height="31" fill="#c0c0c0"/>
<rect x="397" y="579" width="1" height="28" fill="#c0c0c0"/>
<rect x="405" y="579" width="1" height="27" fill="#c0c0c0"/>
<rect x="413" y="579" width="1" height="24" fill="#c0c0c0"/>
<rect x="421" y="579" width="1" height="23" fill="#c0c0c0"/>
<rect x="429" y="579" width="1" height="21" fill="#c0c0c0"/>
<rect x="437" y="579" width="1" height="16" fill="#c0c0c0"/>
<rect x="445" y="579" width="1" height="14" fill="#c0c0c0"/>
<rect x="453" y="579" width="1" height="12" fill="#c0c0c0"/>
<rect x="461" y="579" width="1" height="7" fill="#c0c0c0"/>
<rect x="469" y="579" width="1" height="3" fill="#c0c0c0"/>
<rect x="477" y="579" width="1" height="2" fill="#c0c0c0"/>
<rect x="485" y="577" width="1" height="3" fill="#c0c0c0"/>
<rect x="493" y="575" width="1" height="5" fill="#c0c0c0"/>
<rect x="501" y="573" width="1" height="7" fill="#c0c0c0"/>
<rect x="509" y="571" width="1" height="9" fill="#c0c0c0"/>
<rect x="517" y="571" width="1" height="9" fill="#c0c0c0"/>
<rect x="525" y="572" width="1" height="8" fill="#c0c0c0"/>
<rect x="533" y="572" width="1" height="8" fill="#c0c0c0"/>
<rect x="541" y="572" width="1" height="8" fill="#c0c0c0"/>
<rect x="549" y="569" width="1" height="11" fill="#c0c0c0"/>
<rect x="557" y="568" width="1" height="12" fill="#c0c0c0"/>
<rect x="565" y="568" width="1" height="12" fill="#c0c0c0"/>
<rect x="573" y="569" width="1" height="11" fill="#c0c0c0"/>
<rect x="581" y="569" width="1" height="11" fill="#c0c0c0"/>
<rect x="589" y="569" width="1" height="11" fill="#c0c0c0"/>
<rect x="597" y="568" width="1" height="12" fill="#c0c0c0"/>
<rect x="605" y="568" width="1" height="12" fill="#c0c0c0"/>
<rect x="613" y="569" width="1" height="11" fill="#c0c0c0"/>
<rect x="621" y="571" width="1" height="9" fill="#c0c0c0"/>
<rect x="629" y="572" width="1" height="8" fill="#c0c0c0"/>
<rect x="637" y="574" width="1" height="6" fill="#c0c0c0"/>
<rect x="645" y="573" width="1" height="7" fill="#c0c0c0"/>
<rect x="653" y="573" width="1" height="7" fill="#c0c0c0"/>
<rect x="661" y="573" width="1" height="7" fill="#c0c0c0"/>
<rect x="669" y="574" width="1" height="6" fill="#c0c0c0"/>
<rect x="677" y="575" width="1" height="5" fill="#c0c0c0"/>
<rect x="685" y="572" width="1" height="8" fill="#c0c0c0"/>
<rect x="693" y="573" width="1" height="7" fill="#c0c0c0"/>
<rect x="701" y="572" width="1" height="8" fill="#c0c0c0"/>
<rect x="709" y="572" width="1" height="8" fill="#c0c0c0"/>
<rect x="717" y="570" width="1" height="10" fill="#c0c0c0"/>
<rect x="725" y="569" width="1" height="11" fill="#c0c0c0"/>
<rect x="733" y="565" width="1" height="15" fill="#c0c0c0"/>
<rect x="741" y="562" width="1" height="18" fill="#c0c0c0"/>
<rect x="749" y="561" width="1" height="19" fill="#c0c0c0"/>
<rect x="757" y="559" width="1" height="21" fill="#c0c0c0"/>
<rect x="765" y="558" width="1" height="22" fill="#c0c0c0"/>
<rect x="773" y="558" width="1" height="22" fill="#c0c0c0"/>
<rect x="781" y="555" width="1" height="25" fill="#c0c0c0"/>
<rect x="789" y="554" width="1" height="26" fill="#c0c0c0"/>
<rect x="797" y="553" width="1" height="27" fill="#c0c0c0"/>
<rect x="805" y="553" width="1" height="27" fill="#c0c0c0"/>
<rect x="813" y="553" width="1" height="27" fill="#c0c0c0"/>
<rect x="821" y="554" width="1" height="26" fill="#c0c0c0"/>
<rect x="829" y="554" width="1" height="26" fill="#c0c0c0"/>
<rect x="837" y="555" width="1" height="25" fill="#c0c0c0"/>
<rect x="845" y="559" width="1" height="21" fill="#c0c0c0"/>
<rect x="853" y="562" width="1" height="18" fill="#c0c0c0"/>
<rect x="861" y="565" width="1" height="15" fill="#c0c0c0"/>
<rect x="869" y="568" width="1" height="12" fill="#c0c0c0"/>
<rect x="877" y="569" width="1" height="11" fill="#c0c0c0"/>
<rect x="885" y="571" width="1" height="9" fill="#c0c0c0"/>
<rect x="893" y="571" width="1" height="9" fill="#c0c0c0"/>
<rect x="901" y="571" width="1" height="9" fill="#c0c0c0"/>
<rect x="909" y="572" width="1" height="8" fill="#c0c0c0"/>
<rect x="917" y="573" width="1" height="7" fill="#c0c0c0"/>
<rect x="925" y="574" width="1" height="6" fill="#c0c0c0"/>
<rect x="933" y="576" width="1" height="4" fill="#c0c0c0"/>
<rect x="949" y="579" width="1" height="4" fill="#c0c0c0"/>
<rect x="957" y="579" width="1" height="9" fill="#c0c0c0"/>
<rect x="965" y="579" width="1" height="11" fill="#c0c0c0"/>
<rect x="973" y="579" width="1" height="12" fill="#c0c0c0"/>
<rect x="981" y="579" width="1" height="11" fill="#c0c0c0"/>
<rect x="989" y="579" width="1" height="12" fill="#c0c0c0"/>
<rect x="997" y="579" width="1" height="12" fill="#c0c0c0"/>
<rect x="1005" y="579" width="1" height="13" fill="#c0c0c0"/>
<rect x="1013" y="579" width="1" height="13" fill="#c0c0c0"/>
<rect x="1021" y="579" width="1" height="12" fill="#c0c0c0"/>
<rect x="1029" y="579" width="1" height="11" fill="#c0c0c0"/>
<rect x="1037" y="579" width="1" height="5" fill="#c0c0c0"/>
<rect x="1045" y="579" width="1" height="2" fill="#c0c0c0"/>
<rect x="1053" y="575" width="1" height="5" fill="#c0c0c0"/>
<rect x="1061" y="572" width="1" height="8" fill="#c0c0c0"/>
<rect x="1069" y="568" width="1" height="12" fill="#c0c0c0"/>
<rect x="1077" y="566" width="1" height="14" fill="#c0c0c0"/>
<rect x="1085" y="565" width="1" height="15" fill="#c0c0c0"/>
<rect x="1093" y="564" width="1" height="16" fill="#c0c0c0"/>
<rect x="1101" y="564" width="1" height="16" fill="#c0c0c0"/>
<rect x="1109" y="563" width="1" height="17" fill="#c0c0c0"/>
<rect x="1117" y="561" width="1" height="19" fill="#c0c0c0"/>
<rect x="1125" y="560" width="1" height="20" fill="#c0c0c0"/>
<rect x="1133" y="558" width="1" height="22" fill="#c0c0c0"/>
<rect x="1141" y="557" width="1" height="23" fill="#c0c0c0"/>
<rect x="1149" y="557" width="1" height="23" fill="#c0c0c0"/>
<rect x="1157" y="557" width="1" height="23" fill="#c0c0c0"/>
<rect x="1165" y="557" width="1" height="23" fill="#c0c0c0"/>
<rect x="1173" y="560" width="1" height="20" fill="#c0c0c0"/>
<rect x="1181" y="562" width="1" height="18" fill="#c0c0c0"/>
<rect x="1189" y="563" width="1" height="17" fill="#c0c0c0"/>
<rect x="1197" y="564" width="1" height="16" fill="#c0c0c0"/>
<rect x="1205" y="568" width="1" height="12" fill="#c0c0c0"/>
<rect x="1213" y="568" width="1" height="12" fill="#c0c0c0"/>
<rect x="1221" y="568" width="1" height="12" fill="#c0c0c0"/>
<rect x="1229" y="568" width="1" height="12" fill="#c0c0c0"/>
<rect x="1237" y="568" width="1" height="12" fill="#c0c0c0"/>
<rect x="1245" y="569" width="1" height="11" fill="#c0c0c0"/>
<rect x="1253" y="569" width="1" height="11" fill="#c0c0c0"/>
<rect x="1261" y="567" width="1" height="13" fill="#c0c0c0"/>
<rect x="1269" y="566" width="1" height="14" fill="#c0c0c0"/>
<rect x="1277" y="564" width="1" height="16" fill="#c0c0c0"/>
<rect x="1285" y="563" width="1" height="17" fill="#c0c0c0"/>
<rect x="1293" y="562" width="1" height="18" fill="#c0c0c0"/>
<rect x="1301" y="561" width="1" height="19" fill="#c0c0c0"/>
<rect x="1309" y="560" width="1" height="20" fill="#c0c0c0"/>
<rect x="1317" y="558" width="1" height="22" fill="#c0c0c0"/>
<rect x="1325" y="559" width="1" height="21" fill="#c0c0c0"/>
<rect x="1333" y="560" width="1" height="20" fill="#c0c0c0"/>
</g>
<path d="M5 556h1v1h-1zM6 556h1v1h-1zM7 556h1v1h-1zM11 555h1v1h-1zM12 555h1v1h-1zM13 555h1v1h-1zM17 554h1v1h-1zM18 554h1v1h-1zM19 554h1v1h-1zM23 554h1v1h-1zM24 554h1v1h-1zM25 554h1v1h-1zM29 554h1v1h-1zM30 554h1v1h-1zM31 554h1v1h-1zM35 555h1v1h-1zM36 555h1v1h-1zM37 555h1v1h-1zM41 556h1v1h-1zM42 556h1v1h-1zM43 556h1v1h-1zM47 558h1v1h-1zM48 558h1v1h-1zM49 558h1v1h-1zM53 560h1v1h-1zM54 560h1v1h-1zM55 561h1v1h-1zM59 562h1v1h-1zM60 563h1v1h-1zM61 563h1v1h-1zM65 564h1v1h-1zM66 564h1v1h-1zM67 564h1v1h-1zM71 566h1v1h-1zM72 566h1v1h-1zM73 566h1v1h-1zM77 567h1v1h-1zM78 567h1v1h-1zM79 568h1v1h-1zM83 568h1v1h-1zM84 569h1v1h-1zM85 569h1v1h-1zM89 570h1v1h-1zM90 570h1v1h-1zM91 570h1v1h-1zM95 571h1v1h-1zM96 571h1v1h-1zM97 572h1v1h-1zM101 572h1v1h-1zM102 572h1v1h-1zM103 572h1v1h-1zM107 572h1v1h-1zM108 572h1v1h-1zM109 572h1v1h-1zM113 572h1v1h-1zM114 572h1v1h-1zM115 572h1v1h-1zM119 572h1v1h-1zM120 571h1v1h-1zM121 571h1v1h-1zM125 570h1v1h-1zM126 570h1v1h-1zM127 570h1v1h-1zM131 568h1v1h-1zM132 568h1v1h-1zM133 568h1v1h-1zM137 568h1v1h-1zM138 568h1v1h-1zM139 568h1v1h-1zM143 568h1v1h-1zM144 568h1v1h-1zM145 568h1v1h-1zM149 568h1v1h-1zM150 568h1v1h-1zM151 568h1v1h-1zM155 568h1v1h-1zM156 568h1v1h-1zM157 568h1v1h-1zM161 568h1v1h-1zM162 569h1v1h-1zM163 569h1v1h-1zM167 569h1v1h-1zM168 569h1v1h-1zM169 569h1v1h-1zM173 569h1v1h-1zM174 569h1v1h-1zM175 570h1v1h-1zM179 570h1v1h-1zM180 571h1v1h-1zM181 571h1v1h-1zM185 572h1v1h-1zM186 572h1v1h-1zM187 572h1v1h-1zM191 574h1v1h-1zM192 574h1v1h-1zM193 574h1v1h-1zM197 576h1v1h-1zM198 576h1v1h-1zM199 577h1v1h-1zM203 579h1v1h-1zM204 580h1v1h-1zM205 580h1v1h-1zM209 582h1v1h-1zM210 582h1v1h-1zM211 583h1v1h-1zM215 585h1v1h-1zM216 585h1v1h-1zM217 586h1v1h-1zM221 587h1v1h-1zM222 588h1v1h-1zM223 588h1v1h-1zM227 591h1v1h-1zM228 591h1v1h-1zM229 592h1v1h-1zM233 594h1v1h-1zM234 595h1v1h-1zM235 596h1v1h-1zM239 598h1v1h-1zM240 599h1v1h-1zM241 600h1v1h-1zM245 603h1v1h-1zM246 604h1v1h-1zM247 604h1v1h-1zM251 607h1v1h-1zM252 607h1v1h-1zM253 608h1v1h-1zM257 611h1v1h-1zM258 612h1v1h-1zM259 612h1v1h-1zM263 616h1v1h-1zM264 616h1v1h-1zM265 617h1v1h-1zM269 620h1v1h-1zM270 621h1v1h-1zM271 622h1v1h-1zM275 624h1v1h-1zM276 625h1v1h-1zM277 626h1v1h-1zM281 628h1v1h-1zM282 629h1v1h-1zM283 630h1v1h-1zM287 632h1v1h-1zM288 633h1v1h-1zM289 634h1v1h-1zM293 636h1v1h-1zM294 636h1v1h-1zM295 637h1v1h-1zM299 639h1v1h-1zM300 640h1v1h-1zM301 640h1v1h-1zM305 642h1v1h-1zM306 642h1v1h-1zM307 642h1v1h-1zM311 644h1v1h-1zM312 644h1v1h-1zM313 644h1v1h-1zM317 645h1v1h-1zM318 645h1v1h-1zM319 646h1v1h-1zM323 646h1v1h-1zM324 647h1v1h-1zM325 647h1v1h-1zM329 647h1v1h-1zM330 647h1v1h-1zM331 647h1v1h-1zM335 647h1v1h-1zM336 647h1v1h-1zM337 646h1v1h-1zM341 646h1v1h-1zM342 646h1v1h-1zM343 645h1v1h-1zM347 644h1v1h-1zM348 643h1v1h-1zM349 643h1v1h-1zM353 642h1v1h-1zM354 641h1v1h-1zM355 641h1v1h-1zM359 639h1v1h-1zM360 638h1v1h-1zM361 638h1v1h-1zM365 636h1v1h-1zM366 636h1v1h-1zM367 635h1v1h-1zM371 633h1v1h-1zM372 632h1v1h-1zM373 632h1v1h-1zM377 630h1v1h-1zM378 629h1v1h-1zM379 628h1v1h-1zM383 626h1v1h-1zM384 625h1v1h-1zM385 624h1v1h-1zM389 622h1v1h-1zM390 622h1v1h-1zM391 621h1v1h-1zM395 619h1v1h-1zM396 618h1v1h-1zM397 618h1v1h-1zM401 616h1v1h-1zM402 616h1v1h-1zM403 615h1v1h-1zM407 613h1v1h-1zM408 613h1v1h-1zM409 612h1v1h-1zM413 611h1v1h-1zM414 611h1v1h-1zM415 610h1v1h-1zM419 609h1v1h-1zM420 608h1v1h-1zM421 608h1v1h-1zM425 606h1v1h-1zM426 606h1v1h-1zM427 606h1v1h-1zM431 604h1v1h-1zM432 604h1v1h-1zM433 604h1v1h-1zM437 603h1v1h-1zM438 603h1v1h-1zM439 602h1v1h-1zM443 601h1v1h-1zM444 600h1v1h-1zM445 600h1v1h-1zM449 599h1v1h-1zM450 599h1v1h-1zM451 598h1v1h-1zM455 597h1v1h-1zM456 597h1v1h-1zM457 596h1v1h-1zM461 595h1v1h-1zM462 595h1v1h-1zM463 594h1v1h-1zM467 594h1v1h-1zM468 593h1v1h-1zM469 593h1v1h-1zM473 592h1v1h-1zM474 591h1v1h-1zM475 591h1v1h-1zM479 589h1v1h-1zM480 589h1v1h-1zM481 588h1v1h-1zM485 587h1v1h-1zM486 587h1v1h-1zM487 586h1v1h-1zM491 585h1v1h-1zM492 584h1v1h-1zM493 584h1v1h-1zM497 582h1v1h-1zM498 582h1v1h-1zM499 582h1v1h-1zM503 580h1v1h-1zM504 580h1v1h-1zM505 580h1v1h-1zM509 579h1v1h-1zM510 579h1v1h-1zM511 578h1v1h-1zM515 577h1v1h-1zM516 576h1v1h-1zM517 576h1v1h-1zM521 575h1v1h-1zM522 575h1v1h-1zM523 574h1v1h-1zM527 574h1v1h-1zM528 574h1v1h-1zM529 574h1v1h-1zM533 573h1v1h-1zM534 573h1v1h-1zM535 573h1v1h-1zM539 572h1v1h-1zM540 572h1v1h-1zM541 572h1v1h-1zM545 572h1v1h-1zM546 571h1v1h-1zM547 571h1v1h-1zM551 571h1v1h-1zM552 571h1v1h-1zM553 570h1v1h-1zM557 570h1v1h-1zM558 570h1v1h-1zM559 570h1v1h-1zM563 569h1v1h-1zM564 569h1v1h-1zM565 569h1v1h-1zM569 569h1v1h-1zM570 569h1v1h-1zM571 569h1v1h-1zM575 569h1v1h-1zM576 569h1v1h-1zM577 568h1v1h-1zM581 568h1v1h-1zM582 568h1v1h-1zM583 568h1v1h-1zM587 568h1v1h-1zM588 568h1v1h-1zM589 568h1v1h-1zM593 568h1v1h-1zM594 568h1v1h-1zM595 568h1v1h-1zM599 568h1v1h-1zM600 568h1v1h-1zM601 568h1v1h-1zM605 567h1v1h-1zM606 567h1v1h-1zM607 567h1v1h-1zM611 567h1v1h-1zM612 567h1v1h-1zM613 567h1v1h-1zM617 567h1v1h-1zM618 567h1v1h-1zM619 567h1v1h-1zM623 567h1v1h-1zM624 567h1v1h-1zM625 568h1v1h-1zM629 568h1v1h-1zM630 568h1v1h-1zM631 568h1v1h-1zM635 568h1v1h-1zM636 568h1v1h-1zM637 568h1v1h-1zM641 568h1v1h-1zM642 569h1v1h-1zM643 569h1v1h-1zM647 569h1v1h-1zM648 569h1v1h-1zM649 569h1v1h-1zM653 569h1v1h-1zM654 569h1v1h-1zM655 569h1v1h-1zM659 570h1v1h-1zM660 570h1v1h-1zM661 570h1v1h-1zM665 570h1v1h-1zM666 570h1v1h-1zM667 570h1v1h-1zM671 570h1v1h-1zM672 570h1v1h-1zM673 570h1v1h-1zM677 571h1v1h-1zM678 571h1v1h-1zM679 571h1v1h-1zM683 571h1v1h-1zM684 571h1v1h-1zM685 571h1v1h-1zM689 572h1v1h-1zM690 572h1v1h-1zM691 572h1v1h-1zM695 572h1v1h-1zM696 572h1v1h-1zM697 572h1v1h-1zM701 572h1v1h-1zM702 572h1v1h-1zM703 572h1v1h-1zM707 572h1v1h-1zM708 572h1v1h-1zM709 572h1v1h-1zM713 572h1v1h-1zM714 571h1v1h-1zM715 571h1v1h-1zM719 571h1v1h-1zM720 571h1v1h-1zM721 571h1v1h-1zM725 571h1v1h-1zM726 571h1v1h-1zM727 571h1v1h-1zM731 570h1v1h-1zM732 570h1v1h-1zM733 570h1v1h-1zM737 570h1v1h-1zM738 569h1v1h-1zM739 569h1v1h-1zM743 568h1v1h-1zM744 568h1v1h-1zM745 568h1v1h-1zM749 567h1v1h-1zM750 567h1v1h-1zM751 567h1v1h-1zM755 566h1v1h-1zM756 566h1v1h-1zM757 566h1v1h-1zM761 565h1v1h-1zM762 565h1v1h-1zM763 564h1v1h-1zM767 564h1v1h-1zM768 564h1v1h-1zM769 564h1v1h-1zM773 563h1v1h-1zM774 563h1v1h-1zM775 562h1v1h-1zM779 562h1v1h-1zM780 561h1v1h-1zM781 561h1v1h-1zM785 560h1v1h-1zM786 560h1v1h-1zM787 560h1v1h-1zM791 558h1v1h-1zM792 558h1v1h-1zM793 558h1v1h-1zM797 557h1v1h-1zM798 557h1v1h-1zM799 557h1v1h-1zM803 556h1v1h-1zM804 556h1v1h-1zM805 556h1v1h-1zM809 556h1v1h-1zM810 555h1v1h-1zM811 555h1v1h-1zM815 555h1v1h-1zM816 555h1v1h-1zM817 554h1v1h-1zM821 554h1v1h-1zM822 554h1v1h-1zM823 554h1v1h-1zM827 553h1v1h-1zM828 553h1v1h-1zM829 553h1v1h-1zM833 553h1v1h-1zM834 553h1v1h-1zM835 553h1v1h-1zM839 553h1v1h-1zM840 553h1v1h-1zM841 553h1v1h-1zM845 553h1v1h-1zM846 553h1v1h-1zM847 553h1v1h-1zM851 554h1v1h-1zM852 554h1v1h-1zM853 554h1v1h-1zM857 554h1v1h-1zM858 555h1v1h-1zM859 555h1v1h-1zM863 556h1v1h-1zM864 556h1v1h-1zM865 556h1v1h-1zM869 557h1v1h-1zM870 557h1v1h-1zM871 558h1v1h-1zM875 558h1v1h-1zM876 559h1v1h-1zM877 559h1v1h-1zM881 560h1v1h-1zM882 560h1v1h-1zM883 560h1v1h-1zM887 562h1v1h-1zM888 562h1v1h-1zM889 562h1v1h-1zM893 563h1v1h-1zM894 563h1v1h-1zM895 563h1v1h-1zM899 564h1v1h-1zM900 564h1v1h-1zM901 564h1v1h-1zM905 565h1v1h-1zM906 565h1v1h-1zM907 566h1v1h-1zM911 566h1v1h-1zM912 567h1v1h-1zM913 567h1v1h-1zM917 568h1v1h-1zM918 568h1v1h-1zM919 568h1v1h-1zM923 569h1v1h-1zM924 569h1v1h-1zM925 569h1v1h-1zM929 570h1v1h-1zM930 570h1v1h-1zM931 570h1v1h-1zM935 570h1v1h-1zM936 571h1v1h-1zM937 571h1v1h-1zM941 572h1v1h-1zM942 572h1v1h-1zM943 572h1v1h-1zM947 573h1v1h-1zM948 573h1v1h-1zM949 573h1v1h-1zM953 574h1v1h-1zM954 574h1v1h-1zM955 574h1v1h-1zM959 576h1v1h-1zM960 576h1v1h-1zM961 576h1v1h-1zM965 577h1v1h-1zM966 577h1v1h-1zM967 578h1v1h-1zM971 578h1v1h-1zM972 579h1v1h-1zM973 579h1v1h-1zM977 580h1v1h-1zM978 580h1v1h-1zM979 580h1v1h-1zM983 581h1v1h-1zM984 581h1v1h-1zM985 582h1v1h-1zM989 582h1v1h-1zM990 582h1v1h-1zM991 582h1v1h-1zM995 584h1v1h-1zM996 584h1v1h-1zM997 584h1v1h-1zM1001 585h1v1h-1zM1002 585h1v1h-1zM1003 586h1v1h-1zM1007 586h1v1h-1zM1008 586h1v1h-1zM1009 586h1v1h-1zM1013 587h1v1h-1zM1014 587h1v1h-1zM1015 587h1v1h-1zM1019 588h1v1h-1zM1020 588h1v1h-1zM1021 588h1v1h-1zM1025 588h1v1h-1zM1026 588h1v1h-1zM1027 588h1v1h-1zM1031 588h1v1h-1zM1032 588h1v1h-1zM1033 588h1v1h-1zM1037 588h1v1h-1zM1038 588h1v1h-1zM1039 588h1v1h-1zM1043 586h1v1h-1zM1044 586h1v1h-1zM1045 586h1v1h-1zM1049 586h1v1h-1zM1050 585h1v1h-1zM1051 585h1v1h-1zM1055 584h1v1h-1zM1056 584h1v1h-1zM1057 584h1v1h-1zM1061 583h1v1h-1zM1062 583h1v1h-1zM1063 582h1v1h-1zM1067 582h1v1h-1zM1068 581h1v1h-1zM1069 581h1v1h-1zM1073 580h1v1h-1zM1074 579h1v1h-1zM1075 579h1v1h-1zM1079 577h1v1h-1zM1080 577h1v1h-1zM1081 576h1v1h-1zM1085 575h1v1h-1zM1086 575h1v1h-1zM1087 574h1v1h-1zM1091 573h1v1h-1zM1092 572h1v1h-1zM1093 572h1v1h-1zM1097 570h1v1h-1zM1098 570h1v1h-1zM1099 570h1v1h-1zM1103 568h1v1h-1zM1104 568h1v1h-1zM1105 568h1v1h-1zM1109 567h1v1h-1zM1110 567h1v1h-1zM1111 566h1v1h-1zM1115 566h1v1h-1zM1116 565h1v1h-1zM1117 565h1v1h-1zM1121 564h1v1h-1zM1122 564h1v1h-1zM1123 564h1v1h-1zM1127 564h1v1h-1zM1128 563h1v1h-1zM1129 563h1v1h-1zM1133 562h1v1h-1zM1134 562h1v1h-1zM1135 562h1v1h-1zM1139 561h1v1h-1zM1140 561h1v1h-1zM1141 561h1v1h-1zM1145 560h1v1h-1zM1146 560h1v1h-1zM1147 560h1v1h-1zM1151 560h1v1h-1zM1152 560h1v1h-1zM1153 560h1v1h-1zM1157 559h1v1h-1zM1158 559h1v1h-1zM1159 559h1v1h-1zM1163 558h1v1h-1zM1164 558h1v1h-1zM1165 558h1v1h-1zM1169 558h1v1h-1zM1170 558h1v1h-1zM1171 558h1v1h-1zM1175 558h1v1h-1zM1176 558h1v1h-1zM1177 558h1v1h-1zM1181 558h1v1h-1zM1182 558h1v1h-1zM1183 558h1v1h-1zM1187 558h1v1h-1zM1188 558h1v1h-1zM1189 558h1v1h-1zM1193 558h1v1h-1zM1194 558h1v1h-1zM1195 558h1v1h-1zM1199 558h1v1h-1zM1200 558h1v1h-1zM1201 558h1v1h-1zM1205 559h1v1h-1zM1206 559h1v1h-1zM1207 560h1v1h-1zM1211 560h1v1h-1zM1212 561h1v1h-1zM1213 561h1v1h-1zM1217 562h1v1h-1zM1218 562h1v1h-1zM1219 562h1v1h-1zM1223 562h1v1h-1zM1224 562h1v1h-1zM1225 562h1v1h-1zM1229 563h1v1h-1zM1230 563h1v1h-1zM1231 563h1v1h-1zM1235 564h1v1h-1zM1236 564h1v1h-1zM1237 564h1v1h-1zM1241 564h1v1h-1zM1242 565h1v1h-1zM1243 565h1v1h-1zM1247 565h1v1h-1zM1248 565h1v1h-1zM1249 566h1v1h-1zM1253 566h1v1h-1zM1254 566h1v1h-1zM1255 566h1v1h-1zM1259 566h1v1h-1zM1260 566h1v1h-1zM1261 566h1v1h-1zM1265 566h1v1h-1zM1266 567h1v1h-1zM1267 567h1v1h-1zM1271 567h1v1h-1zM1272 567h1v1h-1zM1273 566h1v1h-1zM1277 566h1v1h-1zM1278 566h1v1h-1zM1279 566h1v1h-1zM1283 566h1v1h-1zM1284 566h1v1h-1zM1285 566h1v1h-1zM1289 566h1v1h-1zM1290 565h1v1h-1zM1291 565h1v1h-1zM1295 565h1v1h-1zM1296 565h1v1h-1zM1297 564h1v1h-1zM1301 564h1v1h-1zM1302 564h1v1h-1zM1303 564h1v1h-1zM1307 563h1v1h-1zM1308 563h1v1h-1zM1309 563h1v1h-1zM1313 562h1v1h-1zM1314 562h1v1h-1zM1315 562h1v1h-1zM1319 562h1v1h-1zM1320 562h1v1h-1zM1321 562h1v1h-1zM1325 561h1v1h-1zM1326 561h1v1h-1zM1327 561h1v1h-1zM1331 560h1v1h-1zM1332 560h1v1h-1z" fill="#ff0000"/>
<path d="M6 696.5 H1690" stroke="#c0c0c0" stroke-width="1" stroke-dasharray="3 3" shape-rendering="crispEdges"/>
<path d="M6 740.5 H1690" stroke="#c0c0c0" stroke-width="1" stroke-dasharray="3 3" shape-rendering="crispEdges"/>
<path d="M5.5 709.5 L13.5 709.5 L21.5 715.5 L29.5 712.5 L37.5 715.5 L45.5 733.5 L53.5 731.5 L61.5 716.5 L69.5 717.5 L77.5 712.5 L85.5 716.5 L93.5 714.5 L101.5 713.5 L109.5 708.5 L117.5 705.5 L125.5 711.5 L133.5 713.5 L141.5 726.5 L149.5 727.5 L157.5 720.5 L165.5 718.5 L173.5 718.5 L181.5 724.5 L189.5 730.5 L197.5 727.5 L205.5 738.5 L213.5 728.5 L221.5 733.5 L229.5 738.5 L237.5 735.5 L245.5 737.5 L253.5 731.5 L261.5 736.5 L269.5 741.5 L277.5 737.5 L285.5 736.5 L293.5 732.5 L301.5 735.5 L309.5 737.5 L317.5 732.5 L325.5 729.5 L333.5 724.5 L341.5 722.5 L349.5 722.5 L357.5 724.5 L365.5 718.5 L373.5 722.5 L381.5 726.5 L389.5 723.5 L397.5 723.5 L405.5 724.5 L413.5 720.5 L421.5 724.5 L429.5 722.5 L437.5 717.5 L445.5 718.5 L453.5 719.5 L461.5 712.5 L469.5 712.5 L477.5 713.5 L485.5 713.5 L493.5 712.5 L501.5 711.5 L509.5 712.5 L517.5 714.5 L525.5 715.5 L533.5 717.5 L541.5 713.5 L549.5 708.5 L557.5 709.5 L565.5 713.5 L573.5 718.5 L581.5 714.5 L589.5 708.5 L597.5 713.5 L605.5 712.5 L613.5 711.5 L621.5 722.5 L629.5 718.5 L637.5 719.5 L645.5 713.5 L653.5 716.5 L661.5 715.5 L669.5 717.5 L677.5 717.5 L685.5 710.5 L693.5 714.5 L701.5 709.5 L709.5 713.5 L717.5 709.5 L725.5 709.5 L733.5 700.5 L741.5 700.5 L749.5 703.5 L757.5 700.5 L765.5 701.5 L773.5 702.5 L781.5 696.5 L789.5 698.5 L797.5 696.5 L805.5 701.5 L813.5 704.5 L821.5 702.5 L829.5 704.5 L837.5 701.5 L845.5 717.5 L853.5 718.5 L861.5 717.5 L869.5 723.5 L877.5 715.5 L885.5 719.5 L893.5 715.5 L901.5 713.5 L909.5 716.5 L917.5 716.5 L925.5 716.5 L933.5 722.5 L941.5 732.5 L949.5 736.5 L957.5 736.5 L965.5 735.5 L973.5 728.5 L981.5 725.5 L989.5 727.5 L997.5 728.5 L1005.5 732.5 L1013.5 726.5 L1021.5 724.5 L1029.5 723.5 L1037.5 702.5 L1045.5 702.5 L1053.5 701.5 L1061.5 700.5 L1069.5 697.5 L1077.5 703.5 L1085.5 703.5 L1093.5 704.5 L1101.5 706.5 L1109.5 700.5 L1117.5 698.5 L1125.5 698.5 L1133.5 694.5 L1141.5 696.5 L1149.5 699.5 L1157.5 698.5 L1165.5 698.5 L1173.5 713.5 L1181.5 713.5 L1189.5 708.5 L1197.5 712.5 L1205.5 723.5 L1213.5 713.5 L1221.5 709.5 L1229.5 711.5 L1237.5 708.5 L1245.5 715.5 L1253.5 712.5 L1261.5 707.5 L1269.5 703.5 L1277.5 699.5 L1285.5 705.5 L1293.5 702.5 L1301.5 701.5 L1309.5 700.5 L1317.5 696.5 L1325.5 709.5 L1332.5 706.9" stroke="#1e90ff" stroke-width="1" fill="none" shape-rendering="crispEdges" />
<g font-family="'Liberation Sans', Arial, sans-serif" fill="#000">
<rect x="1691" y="45" width="2" height="1" fill="#000"/>
<text x="1696.2" y="49" font-size="10" fill="#000" textLength="28.40" lengthAdjust="spacingAndGlyphs" >4231.5</text>
<rect x="1691" y="78" width="2" height="1" fill="#000"/>
<text x="1696.2" y="82" font-size="10" fill="#000" textLength="28.40" lengthAdjust="spacingAndGlyphs" >4179.0</text>
<rect x="1691" y="111" width="2" height="1" fill="#000"/>
<text x="1696.2" y="115" font-size="10" fill="#000" textLength="28.40" lengthAdjust="spacingAndGlyphs" >4126.5</text>
<rect x="1691" y="144" width="2" height="1" fill="#000"/>
<text x="1696.2" y="148" font-size="10" fill="#000" textLength="28.40" lengthAdjust="spacingAndGlyphs" >4074.0</text>
<rect x="1691" y="177" width="2" height="1" fill="#000"/>
<text x="1696.2" y="181" font-size="10" fill="#000" textLength="28.40" lengthAdjust="spacingAndGlyphs" >4020.0</text>
<rect x="1691" y="210" width="2" height="1" fill="#000"/>
<text x="1696.2" y="214" font-size="10" fill="#000" textLength="28.40" lengthAdjust="spacingAndGlyphs" >3967.5</text>
<rect x="1691" y="243" width="2" height="1" fill="#000"/>
<text x="1696.2" y="247" font-size="10" fill="#000" textLength="28.40" lengthAdjust="spacingAndGlyphs" >3915.0</text>
<rect x="1691" y="276" width="2" height="1" fill="#000"/>
<text x="1696.2" y="280" font-size="10" fill="#000" textLength="28.40" lengthAdjust="spacingAndGlyphs" >3862.5</text>
<rect x="1691" y="309" width="2" height="1" fill="#000"/>
<text x="1696.2" y="313" font-size="10" fill="#000" textLength="28.40" lengthAdjust="spacingAndGlyphs" >3810.0</text>
<rect x="1691" y="342" width="2" height="1" fill="#000"/>
<text x="1696.2" y="346" font-size="10" fill="#000" textLength="28.40" lengthAdjust="spacingAndGlyphs" >3757.5</text>
<rect x="1691" y="375" width="2" height="1" fill="#000"/>
<text x="1696.2" y="379" font-size="10" fill="#000" textLength="28.40" lengthAdjust="spacingAndGlyphs" >3705.0</text>
<rect x="1691" y="408" width="2" height="1" fill="#000"/>
<text x="1696.2" y="412" font-size="10" fill="#000" textLength="28.40" lengthAdjust="spacingAndGlyphs" >3652.5</text>
<rect x="1691" y="441" width="2" height="1" fill="#000"/>
<text x="1696.2" y="445" font-size="10" fill="#000" textLength="28.40" lengthAdjust="spacingAndGlyphs" >3600.0</text>
<rect x="1691" y="474" width="2" height="1" fill="#000"/>
<text x="1696.2" y="478" font-size="10" fill="#000" textLength="28.40" lengthAdjust="spacingAndGlyphs" >3547.5</text>
<rect x="1691" y="507" width="2" height="1" fill="#000"/>
<text x="1696.2" y="511" font-size="10" fill="#000" textLength="28.40" lengthAdjust="spacingAndGlyphs" >3495.0</text>
<rect x="1691" y="540" width="2" height="1" fill="#000"/>
<text x="1696.2" y="544" font-size="10" fill="#000" textLength="28.40" lengthAdjust="spacingAndGlyphs" >3442.5</text>
</g>
<rect x="1692" y="81" width="36" height="11" fill="#ff0000"/>
<text x="1696.2" y="90" font-size="10" fill="#fff" textLength="28.40" lengthAdjust="spacingAndGlyphs" font-family="'Liberation Sans', Arial, sans-serif">4165.0</text>
<rect x="1692" y="137" width="36" height="11" fill="#32cd32"/>
<text x="1696.2" y="146" font-size="10" fill="#fff" textLength="28.40" lengthAdjust="spacingAndGlyphs" font-family="'Liberation Sans', Arial, sans-serif">4075.0</text>
<rect x="1692" y="215" width="36" height="11" fill="#4169e1"/>
<text x="1696.2" y="224" font-size="10" fill="#fff" textLength="28.40" lengthAdjust="spacingAndGlyphs" font-family="'Liberation Sans', Arial, sans-serif">3950.0</text>
<rect x="1692" y="291" width="36" height="11" fill="#4169e1"/>
<text x="1696.2" y="300" font-size="10" fill="#fff" textLength="28.40" lengthAdjust="spacingAndGlyphs" font-family="'Liberation Sans', Arial, sans-serif">3830.0</text>
<rect x="1692" y="350" width="36" height="11" fill="#4169e1"/>
<text x="1696.2" y="359" font-size="10" fill="#fff" textLength="28.40" lengthAdjust="spacingAndGlyphs" font-family="'Liberation Sans', Arial, sans-serif">3735.0</text>
<rect x="1692" y="404" width="36" height="11" fill="#4169e1"/>
<text x="1696.2" y="413" font-size="10" fill="#fff" textLength="28.40" lengthAdjust="spacingAndGlyphs" font-family="'Liberation Sans', Arial, sans-serif">3650.0</text>
<g font-family="'Liberation Sans', Arial, sans-serif" fill="#000">
<rect x="1691" y="547" width="2" height="1" fill="#000"/>
<text x="1693.8" y="556" font-size="10" fill="#000" textLength="23.52" lengthAdjust="spacingAndGlyphs" >54.84</text>
<rect x="1691" y="579" width="2" height="1" fill="#000"/>
<text x="1693.8" y="583" font-size="10" fill="#000" textLength="18.29" lengthAdjust="spacingAndGlyphs" >0.00</text>
<rect x="1691" y="658" width="2" height="1" fill="#000"/>
<text x="1693.8" y="656" font-size="10" fill="#000" textLength="31.88" lengthAdjust="spacingAndGlyphs" >-136.93</text>
<rect x="1691" y="663" width="2" height="1" fill="#000"/>
<text x="1693.8" y="672" font-size="10" fill="#000" textLength="15.68" lengthAdjust="spacingAndGlyphs" >100</text>
<rect x="1691" y="696" width="2" height="1" fill="#000"/>
<text x="1693.8" y="700" font-size="10" fill="#000" textLength="10.45" lengthAdjust="spacingAndGlyphs" >70</text>
<rect x="1691" y="740" width="2" height="1" fill="#000"/>
<text x="1693.8" y="744" font-size="10" fill="#000" textLength="10.45" lengthAdjust="spacingAndGlyphs" >30</text>
<rect x="1691" y="773" width="2" height="1" fill="#000"/>
<text x="1693.8" y="771" font-size="10" fill="#000" textLength="5.23" lengthAdjust="spacingAndGlyphs" >0</text>
</g>
<g font-family="'Liberation Sans', Arial, sans-serif" fill="#000">
<rect x="5" y="775" width="1" height="3" fill="#000"/>
<text x="4" y="787" font-size="10" fill="#000" textLength="53.34" lengthAdjust="spacingAndGlyphs" >25 Feb 2020</text>
<rect x="69" y="775" width="1" height="3" fill="#000"/>
<text x="68" y="787" font-size="10" fill="#000" textLength="50.69" lengthAdjust="spacingAndGlyphs" >2 Mar 05:00</text>
<rect x="133" y="775" width="1" height="3" fill="#000"/>
<text x="132" y="787" font-size="10" fill="#000" textLength="50.69" lengthAdjust="spacingAndGlyphs" >6 Mar 05:00</text>
<rect x="197" y="775" width="1" height="3" fill="#000"/>
<text x="196" y="787" font-size="10" fill="#000" textLength="55.97" lengthAdjust="spacingAndGlyphs" >12 Mar 05:00</text>
<rect x="261" y="775" width="1" height="3" fill="#000"/>
<text x="260" y="787" font-size="10" fill="#000" textLength="55.97" lengthAdjust="spacingAndGlyphs" >18 Mar 05:00</text>
<rect x="325" y="775" width="1" height="3" fill="#000"/>
<text x="324" y="787" font-size="10" fill="#000" textLength="55.97" lengthAdjust="spacingAndGlyphs" >24 Mar 05:00</text>
<rect x="389" y="775" width="1" height="3" fill="#000"/>
<text x="388" y="787" font-size="10" fill="#000" textLength="55.97" lengthAdjust="spacingAndGlyphs" >30 Mar 05:00</text>
<rect x="453" y="775" width="1" height="3" fill="#000"/>
<text x="452" y="787" font-size="10" fill="#000" textLength="48.59" lengthAdjust="spacingAndGlyphs" >3 Apr 05:00</text>
<rect x="517" y="775" width="1" height="3" fill="#000"/>
<text x="516" y="787" font-size="10" fill="#000" textLength="53.87" lengthAdjust="spacingAndGlyphs" >10 Apr 05:00</text>
<rect x="581" y="775" width="1" height="3" fill="#000"/>
<text x="580" y="787" font-size="10" fill="#000" textLength="53.87" lengthAdjust="spacingAndGlyphs" >16 Apr 05:00</text>
<rect x="645" y="775" width="1" height="3" fill="#000"/>
<text x="644" y="787" font-size="10" fill="#000" textLength="53.87" lengthAdjust="spacingAndGlyphs" >22 Apr 05:00</text>
<rect x="709" y="775" width="1" height="3" fill="#000"/>
<text x="708" y="787" font-size="10" fill="#000" textLength="53.87" lengthAdjust="spacingAndGlyphs" >28 Apr 05:00</text>
<rect x="773" y="775" width="1" height="3" fill="#000"/>
<text x="772" y="787" font-size="10" fill="#000" textLength="52.28" lengthAdjust="spacingAndGlyphs" >7 May 05:00</text>
<rect x="837" y="775" width="1" height="3" fill="#000"/>
<text x="836" y="787" font-size="10" fill="#000" textLength="57.56" lengthAdjust="spacingAndGlyphs" >13 May 05:00</text>
<rect x="901" y="775" width="1" height="3" fill="#000"/>
<text x="900" y="787" font-size="10" fill="#000" textLength="57.56" lengthAdjust="spacingAndGlyphs" >19 May 05:00</text>
<rect x="965" y="775" width="1" height="3" fill="#000"/>
<text x="964" y="787" font-size="10" fill="#000" textLength="57.56" lengthAdjust="spacingAndGlyphs" >25 May 05:00</text>
<rect x="1029" y="775" width="1" height="3" fill="#000"/>
<text x="1028" y="787" font-size="10" fill="#000" textLength="57.56" lengthAdjust="spacingAndGlyphs" >29 May 05:00</text>
<rect x="1093" y="775" width="1" height="3" fill="#000"/>
<text x="1092" y="787" font-size="10" fill="#000" textLength="49.65" lengthAdjust="spacingAndGlyphs" >4 Jun 05:00</text>
<rect x="1157" y="775" width="1" height="3" fill="#000"/>
<text x="1156" y="787" font-size="10" fill="#000" textLength="54.93" lengthAdjust="spacingAndGlyphs" >10 Jun 05:00</text>
<rect x="1221" y="775" width="1" height="3" fill="#000"/>
<text x="1220" y="787" font-size="10" fill="#000" textLength="54.93" lengthAdjust="spacingAndGlyphs" >16 Jun 05:00</text>
<rect x="1285" y="775" width="1" height="3" fill="#000"/>
<text x="1284" y="787" font-size="10" fill="#000" textLength="54.93" lengthAdjust="spacingAndGlyphs" >22 Jun 05:00</text>
</g>
<text x="1382.2" y="194.2" font-family="'Noto Sans CJK SC', sans-serif" font-size="37" fill="#e60a14" textLength="183" lengthAdjust="spacingAndGlyphs">多空转折点</text>
<text x="1561.4" y="192.1" font-family="'Liberation Sans', sans-serif" font-size="38" fill="#e60a14" textLength="83.8" lengthAdjust="spacingAndGlyphs">4075</text></svg>
</body></html>
